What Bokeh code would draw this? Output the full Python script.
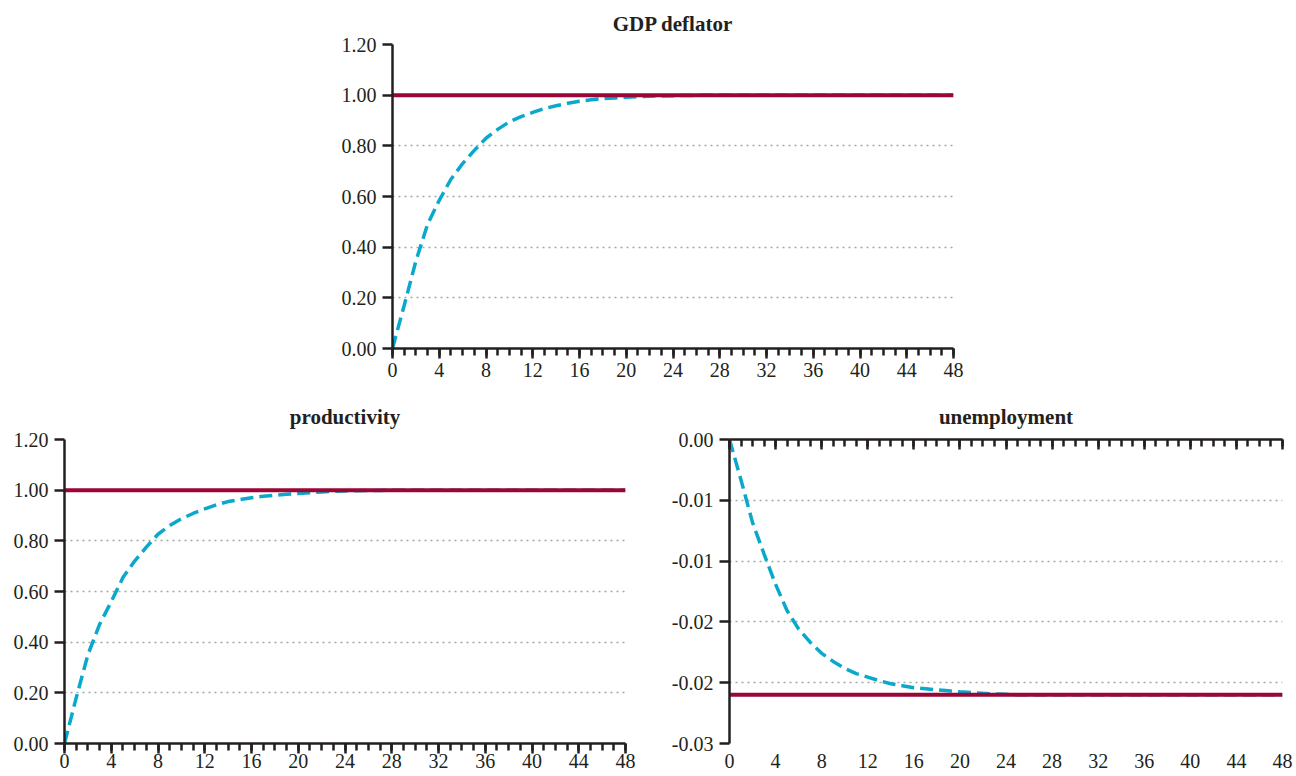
from bokeh.plotting import figure
from bokeh.layouts import column, row
from bokeh.models import FixedTicker, NumeralTickFormatter, LinearAxis, Range1d
from bokeh.embed import file_html
from bokeh.resources import INLINE

# ---------------- data ----------------
periods = list(range(0, 49))

gdp_deflator = [0.0, 0.17, 0.345, 0.49, 0.585, 0.668, 0.73, 0.782, 0.83, 0.865,
                0.895, 0.915, 0.932, 0.947, 0.958, 0.968, 0.976, 0.982, 0.986, 0.989,
                0.992, 0.994, 0.996, 0.997, 0.998, 0.999, 0.999, 1.0, 1.0, 1.0,
                1.0, 1.0, 1.0, 1.0, 1.0, 1.0, 1.0, 1.0, 1.0, 1.0,
                1.0, 1.0, 1.0, 1.0, 1.0, 1.0, 1.0, 1.0, 1.0]
gdp_deflator_ss = 1.0

productivity = [0.0, 0.18, 0.35, 0.47, 0.56, 0.655, 0.72, 0.775, 0.826, 0.86,
                0.887, 0.908, 0.926, 0.942, 0.955, 0.963, 0.97, 0.976, 0.98, 0.984,
                0.987, 0.990, 0.993, 0.995, 0.997, 0.998, 0.999, 0.999, 1.0, 1.0,
                1.0, 1.0, 1.0, 1.0, 1.0, 1.0, 1.0, 1.0, 1.0, 1.0,
                1.0, 1.0, 1.0, 1.0, 1.0, 1.0, 1.0, 1.0, 1.0]
productivity_ss = 1.0

unemployment = [0.0, -0.0040, -0.0082, -0.0113, -0.0143, -0.0169, -0.0187, -0.0200, -0.0211, -0.0219,
                -0.0226, -0.0231, -0.02345, -0.0238, -0.0241, -0.0243, -0.0245, -0.0246, -0.0247, -0.0248,
                -0.0249, -0.02498, -0.02505, -0.0251, -0.02515, -0.0252, -0.0252, -0.0252, -0.0252, -0.0252,
                -0.0252, -0.0252, -0.0252, -0.0252, -0.0252, -0.0252, -0.0252, -0.0252, -0.0252, -0.0252,
                -0.0252, -0.0252, -0.0252, -0.0252, -0.0252, -0.0252, -0.0252, -0.0252, -0.0252]
unemployment_ss = -0.0252

x_major_ticks = list(range(0, 49, 4))
x_minor_ticks = list(range(0, 49, 1))
level_yticks = [0.0, 0.2, 0.4, 0.6, 0.8, 1.0, 1.2]
unemp_yticks = [0.0, -0.006, -0.012, -0.018, -0.024, -0.03]

# ---------------- style ----------------
FONT = "Liberation Serif"
AXIS_COLOR = "#231F20"
RED = "#9A0636"
BLUE = "#0AA8CA"
GRID = "#A5A5A5"


def style_axis(ax, minor=True):
    ax.axis_line_color = AXIS_COLOR
    ax.axis_line_width = 2.5
    ax.major_tick_line_color = AXIS_COLOR
    ax.major_tick_line_width = 2.5
    ax.major_tick_in = 0
    ax.minor_tick_line_color = AXIS_COLOR if minor else None
    ax.minor_tick_line_width = 2.5
    ax.minor_tick_in = 0
    ax.major_label_text_font = FONT
    ax.major_label_text_font_size = "20px"
    ax.major_label_text_color = AXIS_COLOR


def make_fig(title, width, height, ml, mr, mt, mb, y0, y1, yticks, xstandoff, tstandoff,
             ticks_on_top=False):
    p = figure(width=width, height=height, output_backend="svg", toolbar_location=None,
               x_range=Range1d(0, 48), y_range=Range1d(y0, y1),
               min_border_left=ml, min_border_right=mr, min_border_top=mt, min_border_bottom=mb,
               outline_line_color=None, title=title)
    p.title.text_font = FONT
    p.title.text_font_size = "21px"
    p.title.text_font_style = "bold"
    p.title.text_color = AXIS_COLOR
    p.title.align = "center"
    p.title.standoff = tstandoff

    p.xgrid.grid_line_color = None
    p.ygrid.grid_line_color = GRID
    p.ygrid.grid_line_dash = "2 4"
    p.ygrid.grid_line_width = 1.5
    p.ygrid.ticker = FixedTicker(ticks=yticks)

    yax = p.yaxis[0]
    yax.ticker = FixedTicker(ticks=yticks)
    yax.formatter = NumeralTickFormatter(format="0.00")
    style_axis(yax, minor=False)
    yax.major_tick_out = 10
    yax.major_label_standoff = 6

    xax = p.xaxis[0]
    xax.ticker = FixedTicker(ticks=x_major_ticks, minor_ticks=x_minor_ticks)
    style_axis(xax)
    xax.major_tick_out = 10
    xax.minor_tick_out = 7
    xax.major_label_standoff = xstandoff

    if ticks_on_top:
        xax.axis_line_color = None
        xax.major_tick_line_color = None
        xax.minor_tick_line_color = None
        top = LinearAxis(ticker=FixedTicker(ticks=x_major_ticks, minor_ticks=x_minor_ticks),
                         major_label_overrides={t: "" for t in x_major_ticks})
        style_axis(top)
        top.major_tick_out = 0
        top.major_tick_in = 10
        top.minor_tick_out = 0
        top.minor_tick_in = 7
        top.major_label_standoff = 0
        top.major_label_text_font_size = "1px"
        p.add_layout(top, "above")
    return p


def draw(p, values, ss):
    p.line(periods, values, line_color=BLUE, line_width=3.5, line_dash="13 6")
    p.line(periods, [ss] * len(periods), line_color=RED, line_width=4)


p1 = make_fig("GDP deflator", 1296, 385, 392, 343, 44, 37, 0, 1.2, level_yticks, 4, 18)
draw(p1, gdp_deflator, gdp_deflator_ss)

p2 = make_fig("productivity", 660, 391, 64, 35, 54, 33, 0, 1.2, level_yticks, 0, 21)
draw(p2, productivity, productivity_ss)

p3 = make_fig("unemployment", 636, 391, 69, 14, 54, 32, -0.03, 0.0, unemp_yticks, 0, 21,
              ticks_on_top=True)
draw(p3, unemployment, unemployment_ss)

layout = column(p1, row(p2, p3))
open("out.html", "w").write(file_html(layout, INLINE))
